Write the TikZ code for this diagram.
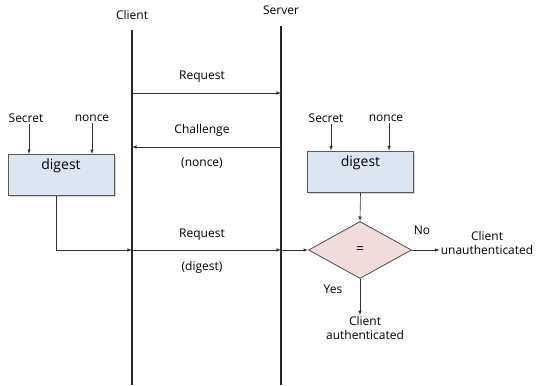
\documentclass[tikz,border=0pt]{standalone}
\usepackage{fontspec}
\setmainfont{Open Sans}
\usetikzlibrary{positioning,shapes,arrows,shadows}
\definecolor{boxblue}{RGB}{220,230,242}
\definecolor{diapink}{RGB}{242,220,219}
\begin{document}
\begin{tikzpicture}[x=1pt,y=-1pt,>=latex,
                       txt node/.style={inner sep=1pt,font=\fontsize{12}{14}\selectfont,align=center},
                       box node/.style={rectangle,draw=black!65,fill=boxblue,line width=0.8pt,
                                        minimum width=106pt,minimum height=41pt,
                                        drop shadow={shadow xshift=1.5pt,shadow yshift=-1.5pt,opacity=0.35}},
                       box text/.style={font=\fontsize{14}{16}\selectfont,inner sep=0pt},
                       test node/.style={diamond,draw=black!70,fill=diapink,line width=0.8pt,
                                         minimum width=103pt,minimum height=57pt,inner sep=0pt,
                                         font=\fontsize{14}{16}\selectfont},
                       life line/.style={line width=1.6pt,black!85},
                       msg/.style={->,line width=0.6pt,black!80}
                      ]
   \useasboundingbox (0,0) rectangle (537,385);
   % lifelines
   \node[txt node] (client) at (132,15) {Client};
   \node[txt node] (server) at (281,10) {Server};
   \coordinate (cl top) at (132,30);
   \coordinate (cl bot) at (132,385);
   \coordinate (sv top) at (281,26);
   \coordinate (sv bot) at (281,385);
   \draw[life line] (cl top) -- (cl bot);
   \draw[life line] (sv top) -- (sv bot);
   % messages
   \coordinate (c1) at (132,93);
   \coordinate (s1) at (281,93);
   \coordinate (c2) at (132,147);
   \coordinate (s2) at (281,147);
   \coordinate (c3) at (132,250);
   \coordinate (s3) at (281,250);
   \draw[msg] (c1) -- (s1);
   \draw[msg] (s2) -- (c2);
   \node[txt node] (req1) at (202,77) {Request};
   \node[txt node] (chal) at (202,130) {Challenge};
   \node[txt node] (nonce msg) at (202,163) {(nonce)};
   \node[txt node] (req2) at (202,235) {Request};
   \node[txt node] (digest msg) at (202,267) {(digest)};
   % client side
   \node[box node] (cdig) at (61,175) {};
   \node[box text,below=5pt of cdig.north] (cdig text) {digest};
   \node[txt node] (csec) at (26,118) {Secret};
   \node[txt node] (cnon) at (92,118) {nonce};
   \draw[msg] ([xshift=3pt]csec.south) -- ([xshift=3pt]csec.south |- cdig.north);
   \draw[msg] (cnon.south) -- (cnon.south |- cdig.north);
   \draw[msg] ([xshift=-5pt]cdig.south) |- (c3);
   \draw[msg] (c3) -- (s3);
   % server side
   \node[box node] (sdig) at (360.5,171.5) {};
   \node[box text,below=5pt of sdig.north] (sdig text) {digest};
   \node[txt node] (ssec) at (326,118) {Secret};
   \node[txt node] (snon) at (386,118) {nonce};
   \draw[msg] ([xshift=5pt]ssec.south) -- ([xshift=5pt]ssec.south |- sdig.north);
   \draw[msg] ([xshift=3pt]snon.south) -- ([xshift=3pt]snon.south |- sdig.north);
   \node[test node] (eq) at (360,250) {=};
   \draw[msg] (s3) -- (eq.west);
   \draw[msg] (sdig.south) -- (eq.north);
   \node[txt node] (no) at (422,230) {No};
   \node[txt node] (yes) at (333,289) {Yes};
   \node[txt node] (unauth) at (487,243) {Client\\unauthenticated};
   \node[txt node] (auth) at (365,328) {Client\\authenticated};
   \draw[msg] (eq.east) -- (eq.east -| unauth.west);
   \draw[msg] (eq.south) -- (eq.south |- auth.north);
 \end{tikzpicture}
\end{document}
